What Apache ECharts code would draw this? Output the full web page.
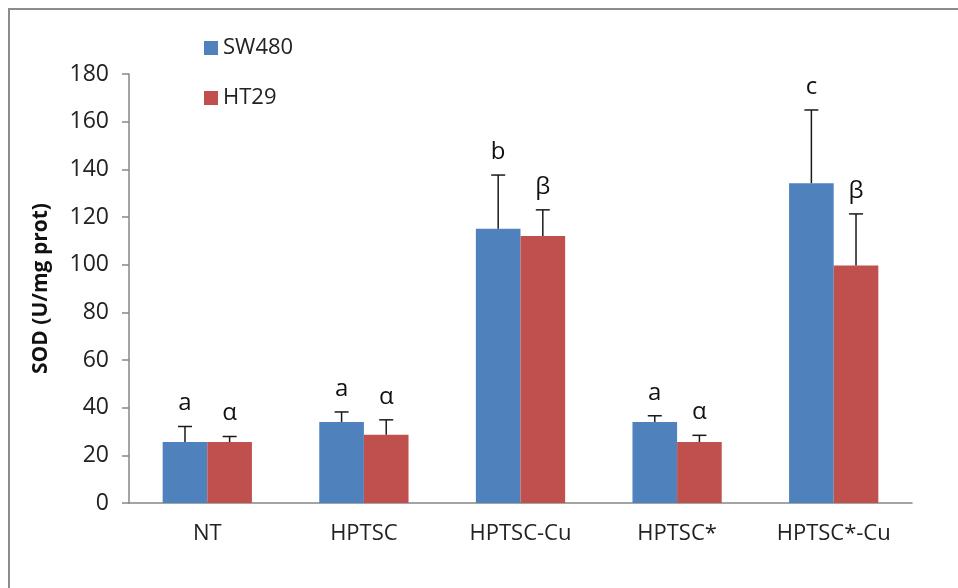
<!DOCTYPE html>
<html>
<head>
<meta charset="utf-8">
<script src="https://cdn.jsdelivr.net/npm/echarts@6/dist/echarts.min.js"></script>
<style>
  html, body { margin: 0; padding: 0; background: #fff; }
  #chart { width: 958px; height: 588px; }
</style>
</head>
<body>
<div id="chart"></div>
<script>
// data
var categories = ['NT', 'HPTSC', 'HPTSC-Cu', 'HPTSC*', 'HPTSC*-Cu']
var sw480 = [25.6, 34.0, 115.1, 34.0, 134.2]
var sw480Err = [6.5, 4.2, 22.5, 2.6, 30.7]
var sw480Letters = ['a', 'a', 'b', 'a', 'c']
var ht29 = [25.6, 28.6, 112.0, 25.6, 99.6]
var ht29Err = [2.3, 6.3, 11.0, 2.8, 21.7]
var ht29Letters = ['α', 'α', 'β', 'α', 'β']
var yTicks = [0, 20, 40, 60, 80, 100, 120, 140, 160, 180]

var blue = '#4f81bd'
var red = '#c0504d'
var font = '"Open Sans", "Liberation Sans", sans-serif'
var catGap = 0.43

function errSeries(values, errs, letters, side) {
  var data = values.map(function (v, i) { return [i, v, v + errs[i], letters[i]] })
  return {
    type: 'custom',
    name: 'err' + side,
    z: 5,
    data: data,
    encode: { x: 0, y: [1, 2] },
    renderItem: function (params, api) {
      var i = api.value(0)
      var w = api.size([1, 0])[0]
      var off = side * w * (1 - catGap) / 4
      var base = api.coord([i, api.value(1)])
      var top = api.coord([i, api.value(2)])
      var x = base[0] + off
      var cap = 7
      var stroke = { stroke: '#1a1a1a', lineWidth: 1.5 }
      return {
        type: 'group',
        children: [
          { type: 'line', shape: { x1: x, y1: base[1], x2: x, y2: top[1] }, style: stroke },
          { type: 'line', shape: { x1: x - cap, y1: top[1], x2: x + cap, y2: top[1] }, style: stroke },
          {
            type: 'text',
            style: {
              text: letters[i],
              x: x,
              y: top[1] - 11,
              align: 'center',
              verticalAlign: 'bottom',
              fill: '#111',
              font: '24px ' + font
            }
          }
        ]
      }
    }
  }
}

var chart = echarts.init(document.getElementById('chart'))
chart.setOption({
  backgroundColor: '#ffffff',
  animation: false,
  graphic: [{
    type: 'rect',
    shape: { x: 9, y: 9, width: 1000, height: 700 },
    style: { fill: 'none', stroke: '#8c8c8c', lineWidth: 2 },
    silent: true
  }],
  legend: {
    data: ['SW480', 'HT29'],
    orient: 'vertical',
    left: 199,
    top: 32,
    icon: 'rect',
    itemWidth: 14,
    itemHeight: 14,
    itemGap: 28,
    textStyle: { fontSize: 22, color: '#222', fontFamily: font }
  },
  grid: {
    left: 129,
    right: 46,
    top: 74,
    bottom: 85,
    containLabel: false
  },
  xAxis: {
    type: 'category',
    data: categories,
    axisLine: { lineStyle: { color: '#868686', width: 1.5 } },
    axisTick: { length: 8, lineStyle: { color: '#868686', width: 1.5 } },
    axisLabel: { fontSize: 22, color: '#222', fontFamily: font, margin: 20 }
  },
  yAxis: {
    type: 'value',
    min: yTicks[0],
    max: yTicks[yTicks.length - 1],
    interval: yTicks[1] - yTicks[0],
    name: 'SOD (U/mg prot)',
    nameLocation: 'middle',
    nameGap: 77,
    nameTextStyle: { fontSize: 21, fontWeight: 'bold', color: '#111', fontFamily: font },
    axisLine: { show: true, lineStyle: { color: '#868686', width: 1.5 } },
    axisTick: { show: true, length: 7, lineStyle: { color: '#868686', width: 1.5 } },
    axisLabel: { fontSize: 23, color: '#222', fontFamily: font, margin: 20 },
    splitLine: { show: false }
  },
  series: [
    {
      name: 'SW480',
      type: 'bar',
      data: sw480,
      barGap: 0,
      barCategoryGap: (catGap * 100) + '%',
      itemStyle: { color: blue }
    },
    {
      name: 'HT29',
      type: 'bar',
      data: ht29,
      barGap: 0,
      barCategoryGap: (catGap * 100) + '%',
      itemStyle: { color: red }
    },
    errSeries(sw480, sw480Err, sw480Letters, -1),
    errSeries(ht29, ht29Err, ht29Letters, 1)
  ]
})
</script>
</body>
</html>
